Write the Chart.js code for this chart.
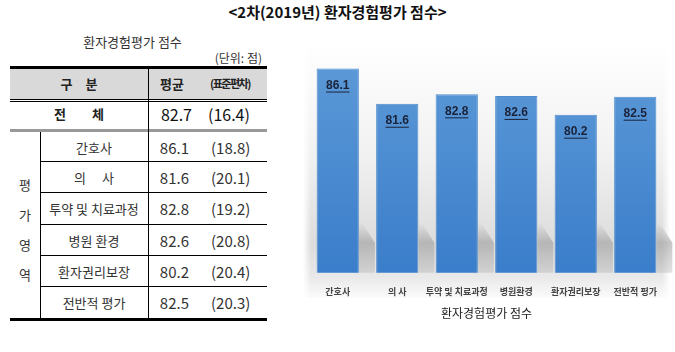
<!DOCTYPE html>
<html>
<head>
<meta charset="utf-8">
<script src="https://cdn.jsdelivr.net/npm/chart.js@4.4.1/dist/chart.umd.min.js"></script>
<style>
  body { margin: 0; width: 675px; height: 352px; background: #fff; position: relative; overflow: hidden;
         font-family: 'Noto Sans CJK KR', 'Noto Sans', sans-serif; color: #222; }
  .abs { position: absolute; white-space: nowrap; }
  .ln { position: absolute; background: #000; }
  #wrap { position: absolute; left: 290px; top: 30px; width: 385px; height: 322px; }
</style>
</head>
<body>
<div class="abs" style="left:0;width:675px;top:1px;text-align:center;font-size:15px;font-weight:bold;color:#111;">&lt;2차(2019년) 환자경험평가 점수&gt;</div>

<div id="tbl"></div>

<div id="wrap"><canvas id="grafico" width="385" height="322"></canvas></div>

<script>
// dados do gráfico
const categorias = ['간호사', '의 사', '투약 및 치료과정', '병원환경', '환자권리보장', '전반적 평가'];
const pontuacoes = [86.1, 81.6, 82.8, 82.6, 80.2, 82.5];
const yMin = 60;
const yMax = 90;

// dados da tabela
const linhasTabela = ['간호사', '의　 사', '투약 및 치료과정', '병원 환경', '환자권리보장', '전반적 평가'];
const desvios = [18.8, 20.1, 19.2, 20.8, 20.4, 20.3];
const mediaTotal = 82.7;
const desvioTotal = 16.4;
const letrasArea = ['평', '가', '영', '역'];

// monta a tabela com divs posicionadas
const tbl = document.getElementById('tbl');
let html = '';
function txt(x, y, w, s, style) {
    html += `<div class="abs" style="left:${x}px;top:${y}px;width:${w}px;${style}">${s}</div>`;
}
function line(x, y, w, h, cor) {
    html += `<div class="ln" style="left:${x}px;top:${y}px;width:${w}px;height:${h}px;background:${cor || '#000'}"></div>`;
}
txt(10, 32, 245, '환자경험평가 점수', 'text-align:center;font-size:13px;color:#333;');
txt(160, 49, 102, '(단위: 점)', 'text-align:right;font-size:12px;color:#333;');
// cabeçalho
html += '<div class="abs" style="left:10px;top:68px;width:257px;height:31px;background:#d9d9d9"></div>';
line(10, 66, 257, 3);
line(10, 99, 257, 1);
line(10, 101, 257, 1);
txt(10, 74, 138, '구　분', 'text-align:center;font-size:13px;font-weight:bold;');
txt(160, 74, 40, '평균', 'font-size:13px;font-weight:bold;');
txt(210, 75, 60, '(표준편차)', 'font-size:11px;font-weight:bold;letter-spacing:-1.5px;');
// linha total
txt(10, 104, 138, '전　　체', 'text-align:center;font-size:13px;font-weight:bold;');
txt(140, 102, 52, mediaTotal.toFixed(1), 'text-align:right;font-size:16px;color:#111;');
txt(208, 102, 60, '(' + desvioTotal.toFixed(1) + ')', 'font-size:16px;color:#111;');
line(10, 129, 257, 3, '#999');
// linhas de dados
const topo = 132;
const alturas = [30, 31, 32, 31, 31, 32];
let y = topo;
linhasTabela.forEach((nome, i) => {
    const h = alturas[i];
    txt(40, y + 6, 108, nome, 'text-align:center;font-size:13px;color:#333;');
    txt(140, y + 5, 49, pontuacoes[i].toFixed(1), 'text-align:right;font-size:15px;color:#333;');
    txt(211, y + 5, 60, '(' + desvios[i].toFixed(1) + ')', 'font-size:15px;color:#333;');
    y += h;
    if (i < linhasTabela.length - 1) line(40, y - 1, 227, 1);
});
line(10, y - 1, 257, 3);
line(40, 132, 1, y - 132);
line(148, 68, 1, y - 68);
letrasArea.forEach((l, i) => txt(10, 175 + i * 30, 30, l, 'text-align:center;font-size:13px;color:#333;'));
tbl.innerHTML = html;

// fundo cinza com sombra atrás das barras
const fundoPlugin = {
    id: 'fundo',
    beforeDraw(chart) {
        const ctx = chart.ctx;
        const x0 = 13, x1 = 380, y0 = 10, y1 = 268;
        const g = ctx.createLinearGradient(0, y0, 0, y1);
        g.addColorStop(0, '#ffffff');
        g.addColorStop(0.45, '#f1f1f1');
        g.addColorStop(0.8, '#dcdcdc');
        g.addColorStop(0.92, '#e9e9e9');
        g.addColorStop(1, '#fbfbfb');
        ctx.save();
        ctx.fillStyle = g;
        ctx.fillRect(x0, y0, x1 - x0, y1 - y0);
        const gl = ctx.createLinearGradient(x0, 0, x0 + 8, 0);
        gl.addColorStop(0, 'rgba(255,255,255,1)');
        gl.addColorStop(1, 'rgba(255,255,255,0)');
        ctx.fillStyle = gl;
        ctx.fillRect(x0, y0, 8, y1 - y0);
        const gr = ctx.createLinearGradient(x1 - 8, 0, x1, 0);
        gr.addColorStop(0, 'rgba(255,255,255,0)');
        gr.addColorStop(1, 'rgba(255,255,255,1)');
        ctx.fillStyle = gr;
        ctx.fillRect(x1 - 8, y0, 8, y1 - y0);
        ctx.restore();
    },
    beforeDatasetsDraw(chart) {
        const ctx = chart.ctx;
        const base = chart.chartArea.bottom;
        ctx.save();
        chart.getDatasetMeta(0).data.forEach(bar => {
            const dir = bar.x + bar.width / 2;
            const g = ctx.createLinearGradient(0, base - 50, 0, base);
            g.addColorStop(0, 'rgba(150,150,150,0)');
            g.addColorStop(0.4, 'rgba(150,150,150,0.55)');
            g.addColorStop(1, 'rgba(170,170,170,0.35)');
            ctx.fillStyle = g;
            ctx.beginPath();
            ctx.moveTo(dir, base - 55);
            ctx.lineTo(dir + 16, base - 30);
            ctx.lineTo(dir + 16, base);
            ctx.lineTo(dir, base);
            ctx.closePath();
            ctx.fill();
        });
        ctx.restore();
    }
};

// rótulos de valor sublinhados dentro das barras
const rotuloPlugin = {
    id: 'rotulos',
    afterDatasetsDraw(chart) {
        const ctx = chart.ctx;
        ctx.save();
        ctx.font = 'bold 12px "Liberation Sans Narrow", "Liberation Sans", sans-serif';
        ctx.fillStyle = '#1b2238';
        ctx.strokeStyle = '#1b2238';
        ctx.lineWidth = 1;
        ctx.textAlign = 'center';
        ctx.textBaseline = 'middle';
        chart.getDatasetMeta(0).data.forEach((bar, i) => {
            const s = pontuacoes[i].toFixed(1);
            const ty = bar.y + 17;
            ctx.fillText(s, bar.x, ty);
            const w = ctx.measureText(s).width;
            ctx.beginPath();
            ctx.moveTo(bar.x - w / 2, ty + 6.5);
            ctx.lineTo(bar.x + w / 2, ty + 6.5);
            ctx.stroke();
        });
        ctx.restore();
    }
};

const grafico = document.getElementById('grafico');
new Chart(grafico, {
    type: 'bar',
    data: {
        labels: categorias,
        datasets: [{
            data: pontuacoes,
            backgroundColor: (c) => {
                const area = c.chart.chartArea;
                if (!area) return '#4a8bd0';
                const g = c.chart.ctx.createLinearGradient(0, area.top, 0, area.bottom);
                g.addColorStop(0, '#5f9cd8');
                g.addColorStop(1, '#3a7dca');
                return g;
            },
            borderColor: '#4f8ccc',
            borderWidth: 1,
            barPercentage: 0.71,
            categoryPercentage: 1
        }]
    },
    options: {
        responsive: false,
        animation: false,
        layout: { padding: { left: 18, right: 10, top: 8, bottom: 31 } },
        scales: {
            x: {
                grid: { display: false },
                border: { display: false },
                ticks: {
                    padding: 5,
                    color: '#444',
                    font: { family: 'Noto Sans CJK KR', size: 9, weight: 'bold' },
                    maxRotation: 0,
                    autoSkip: false
                },
                title: {
                    display: true,
                    text: '환자경험평가 점수',
                    color: '#222',
                    font: { family: 'Noto Sans CJK KR', size: 12 },
                    padding: { top: 5, bottom: 0 }
                }
            },
            y: {
                display: false,
                min: yMin,
                max: yMax
            }
        },
        plugins: {
            legend: { display: false },
            tooltip: { enabled: false }
        }
    },
    plugins: [fundoPlugin, rotuloPlugin]
});
</script>
</body>
</html>
